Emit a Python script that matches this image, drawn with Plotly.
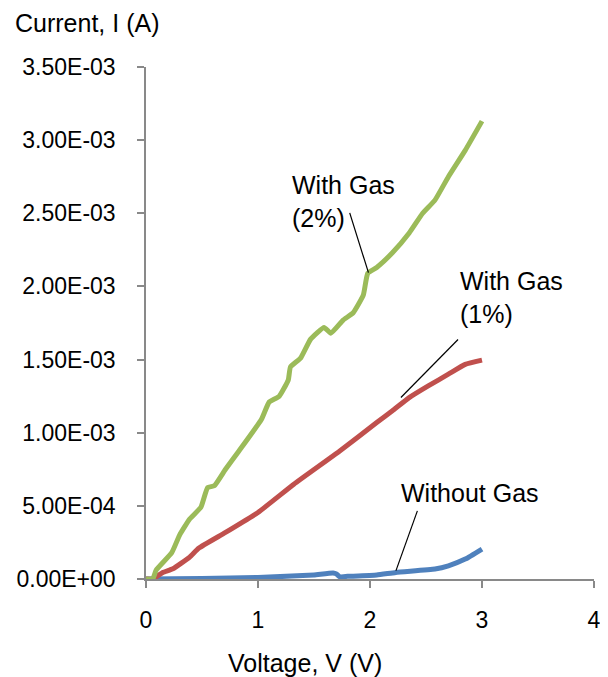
import plotly.graph_objects as go

# ---- data ----
voltage_2pct = [0, 0.06, 0.09, 0.23, 0.30, 0.39, 0.49, 0.55, 0.61, 0.71, 0.83, 1.03, 1.10, 1.19,
                1.27, 1.29, 1.38, 1.47, 1.59, 1.65, 1.76, 1.85, 1.94, 1.98, 2.06, 2.20, 2.35,
                2.47, 2.58, 2.70, 2.85, 3.00]
current_2pct = [0, 0, 0.06e-3, 0.18e-3, 0.30e-3, 0.41e-3, 0.49e-3, 0.625e-3, 0.637e-3, 0.75e-3,
                0.875e-3, 1.09e-3, 1.21e-3, 1.25e-3, 1.36e-3, 1.45e-3, 1.51e-3, 1.64e-3,
                1.72e-3, 1.68e-3, 1.77e-3, 1.82e-3, 1.94e-3, 2.09e-3, 2.13e-3, 2.23e-3,
                2.365e-3, 2.50e-3, 2.59e-3, 2.75e-3, 2.93e-3, 3.13e-3]

voltage_1pct = [0, 0.06, 0.15, 0.24, 0.39, 0.47, 0.71, 1.00, 1.32, 1.73, 2.06, 2.20, 2.35,
                2.52, 2.70, 2.85, 3.00]
current_1pct = [0, 0, 0.045e-3, 0.07e-3, 0.15e-3, 0.21e-3, 0.318e-3, 0.455e-3, 0.648e-3,
                0.875e-3, 1.07e-3, 1.15e-3, 1.24e-3, 1.32e-3, 1.40e-3, 1.467e-3, 1.496e-3]

voltage_nogas = [0, 0.5, 1.0, 1.3, 1.5, 1.67, 1.70, 1.73, 1.80, 2.06, 2.23, 2.58, 2.70, 2.85, 3.00]
current_nogas = [0, 0.003e-3, 0.01e-3, 0.02e-3, 0.028e-3, 0.041e-3, 0.035e-3, 0.015e-3,
                 0.018e-3, 0.027e-3, 0.045e-3, 0.068e-3, 0.09e-3, 0.136e-3, 0.205e-3]

y_ticks = [0, 0.5e-3, 1.0e-3, 1.5e-3, 2.0e-3, 2.5e-3, 3.0e-3, 3.5e-3]
y_tick_labels = [f"{v:.2E}" for v in y_ticks]
x_ticks = [0, 1, 2, 3, 4]

labels = ["With Gas<br>(2%)", "With Gas<br>(1%)", "Without Gas"]
label_pos = [(1.29, 2.578e-3), (2.786, 1.924e-3), (2.262, 0.587e-3)]
leaders = [((1.819, 2.503e-3), (1.986, 2.094e-3)),
           ((2.786, 1.637e-3), (2.276, 1.241e-3)),
           ((2.423, 0.466e-3), (2.232, 0.057e-3))]

FONT = "Liberation Sans, Arial, sans-serif"

fig = go.Figure()
fig.add_trace(go.Scatter(x=voltage_nogas, y=current_nogas, mode="lines",
                         line=dict(color="#4F81BD", width=5, shape="spline", smoothing=0.4),
                         cliponaxis=False))
fig.add_trace(go.Scatter(x=voltage_1pct, y=current_1pct, mode="lines",
                         line=dict(color="#C0504D", width=5, shape="spline", smoothing=0.4),
                         cliponaxis=False))
fig.add_trace(go.Scatter(x=voltage_2pct, y=current_2pct, mode="lines",
                         line=dict(color="#9BBB59", width=5, shape="spline", smoothing=0.4),
                         cliponaxis=False))

for (x0, y0), (x1, y1) in leaders:
    fig.add_shape(type="line", x0=x0, y0=y0, x1=x1, y1=y1,
                  line=dict(color="black", width=1.2))

for text, (x, y) in zip(labels, label_pos):
    fig.add_annotation(x=x, y=y, text=text, showarrow=False, xanchor="left",
                       yanchor="middle", align="left",
                       font=dict(family=FONT, size=25, color="black"))

fig.add_annotation(xref="paper", yref="paper", x=-0.297, y=1.086, text="Current, I (A)",
                   showarrow=False, xanchor="left", yanchor="middle",
                   font=dict(family=FONT, size=25, color="black"))
fig.add_annotation(xref="paper", yref="paper", x=0.356, y=-0.164, text="Voltage, V (V)",
                   showarrow=False, xanchor="center", yanchor="middle",
                   font=dict(family=FONT, size=25, color="black"))

axis_common = dict(showgrid=False, zeroline=False, showline=True, linecolor="#898989",
                   linewidth=1.5, ticks="outside", tickcolor="#898989", tickwidth=1.5,
                   ticklen=7, tickfont=dict(family=FONT, size=23, color="black"))

fig.update_xaxes(range=[0, 4], tickvals=x_ticks, ticktext=[str(t) for t in x_ticks],
                 ticklabelstandoff=13, **axis_common)
fig.update_yaxes(range=[0, 3.5e-3], tickvals=y_ticks, ticktext=y_tick_labels,
                 ticklabelstandoff=17, **axis_common)

# page body adds an 8px offset, so the figure is 8px smaller than the window
fig.update_layout(width=600, height=669, margin=dict(l=138, r=7, t=59, b=98),
                  paper_bgcolor="white", plot_bgcolor="white", showlegend=False,
                  font=dict(family=FONT, color="black"))

fig.write_html("out.html")
